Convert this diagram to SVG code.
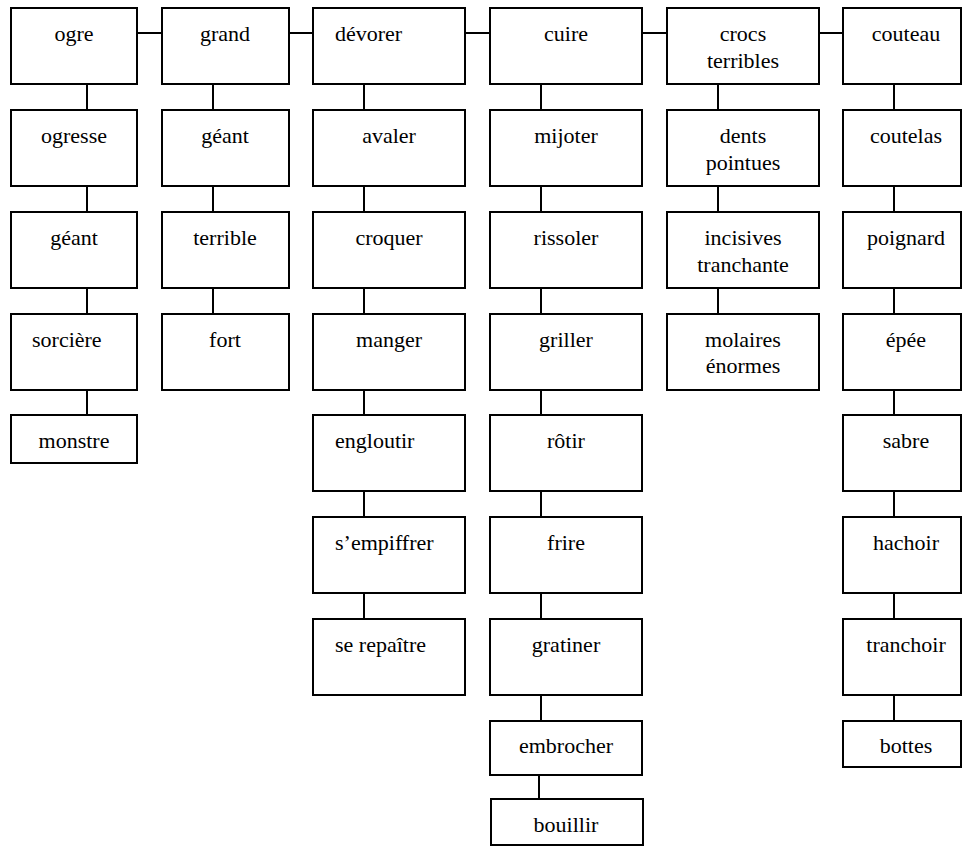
<svg xmlns="http://www.w3.org/2000/svg" width="962" height="846" viewBox="0 0 962 846">
<style>
rect{fill:#fff;stroke:#000;stroke-width:2}
line{stroke:#000;stroke-width:2}
text{fill:#000;text-anchor:middle}
.l{text-anchor:start}
</style>
<rect x="0" y="0" width="962" height="846" style="stroke:none"/>
<g id="connectors">
<line x1="137" y1="33" x2="162" y2="33"/>
<line x1="289" y1="33" x2="313" y2="33"/>
<line x1="465" y1="33" x2="490" y2="33"/>
<line x1="642" y1="33" x2="667" y2="33"/>
<line x1="819" y1="33" x2="843" y2="33"/>
<line x1="87" y1="84" x2="87" y2="110"/>
<line x1="87" y1="186" x2="87" y2="212"/>
<line x1="87" y1="288" x2="87" y2="314"/>
<line x1="87" y1="390" x2="87" y2="415"/>
<line x1="213" y1="84" x2="213" y2="110"/>
<line x1="213" y1="186" x2="213" y2="212"/>
<line x1="213" y1="288" x2="213" y2="314"/>
<line x1="364" y1="84" x2="364" y2="110"/>
<line x1="364" y1="186" x2="364" y2="212"/>
<line x1="364" y1="288" x2="364" y2="314"/>
<line x1="364" y1="390" x2="364" y2="415"/>
<line x1="364" y1="491" x2="364" y2="517"/>
<line x1="364" y1="593" x2="364" y2="619"/>
<line x1="541" y1="84" x2="541" y2="110"/>
<line x1="541" y1="186" x2="541" y2="212"/>
<line x1="541" y1="288" x2="541" y2="314"/>
<line x1="541" y1="390" x2="541" y2="415"/>
<line x1="541" y1="491" x2="541" y2="517"/>
<line x1="541" y1="593" x2="541" y2="619"/>
<line x1="541" y1="695" x2="541" y2="721"/>
<line x1="539" y1="775" x2="539" y2="799"/>
<line x1="718" y1="84" x2="718" y2="110"/>
<line x1="718" y1="186" x2="718" y2="212"/>
<line x1="718" y1="288" x2="718" y2="314"/>
<line x1="894" y1="84" x2="894" y2="110"/>
<line x1="894" y1="186" x2="894" y2="212"/>
<line x1="894" y1="288" x2="894" y2="314"/>
<line x1="894" y1="390" x2="894" y2="415"/>
<line x1="894" y1="491" x2="894" y2="517"/>
<line x1="894" y1="593" x2="894" y2="619"/>
<line x1="894" y1="695" x2="894" y2="721"/>
</g>
<g id="nodes" font-family="Liberation Serif, Times New Roman, serif" font-size="22">
<g id="ogre"><rect x="11" y="8" width="126" height="76"/><text x="74" y="41">ogre</text></g>
<g id="ogresse"><rect x="11" y="110" width="126" height="76"/><text x="74" y="143">ogresse</text></g>
<g id="geant1"><rect x="11" y="212" width="126" height="76"/><text x="74" y="245">géant</text></g>
<g id="sorciere"><rect x="11" y="314" width="126" height="76"/><text class="l" x="32" y="347">sorcière</text></g>
<g id="monstre"><rect x="11" y="415" width="126" height="48"/><text x="74" y="448">monstre</text></g>
<g id="grand"><rect x="162" y="8" width="127" height="76"/><text x="225" y="41">grand</text></g>
<g id="geant2"><rect x="162" y="110" width="127" height="76"/><text x="225" y="143">géant</text></g>
<g id="terrible"><rect x="162" y="212" width="127" height="76"/><text x="225" y="245">terrible</text></g>
<g id="fort"><rect x="162" y="314" width="127" height="76"/><text x="225" y="347">fort</text></g>
<g id="devorer"><rect x="313" y="8" width="152" height="76"/><text class="l" x="335" y="41">dévorer</text></g>
<g id="avaler"><rect x="313" y="110" width="152" height="76"/><text x="389" y="143">avaler</text></g>
<g id="croquer"><rect x="313" y="212" width="152" height="76"/><text x="389" y="245">croquer</text></g>
<g id="manger"><rect x="313" y="314" width="152" height="76"/><text x="389" y="347">manger</text></g>
<g id="engloutir"><rect x="313" y="415" width="152" height="76"/><text class="l" x="335" y="448">engloutir</text></g>
<g id="sempiffrer"><rect x="313" y="517" width="152" height="76"/><text class="l" x="335" y="550">s’empiffrer</text></g>
<g id="serepaitre"><rect x="313" y="619" width="152" height="76"/><text class="l" x="335" y="652">se repaître</text></g>
<g id="cuire"><rect x="490" y="8" width="152" height="76"/><text x="566" y="41">cuire</text></g>
<g id="mijoter"><rect x="490" y="110" width="152" height="76"/><text x="566" y="143">mijoter</text></g>
<g id="rissoler"><rect x="490" y="212" width="152" height="76"/><text x="566" y="245">rissoler</text></g>
<g id="griller"><rect x="490" y="314" width="152" height="76"/><text x="566" y="347">griller</text></g>
<g id="rotir"><rect x="490" y="415" width="152" height="76"/><text x="566" y="448">rôtir</text></g>
<g id="frire"><rect x="490" y="517" width="152" height="76"/><text x="566" y="550">frire</text></g>
<g id="gratiner"><rect x="490" y="619" width="152" height="76"/><text x="566" y="652">gratiner</text></g>
<g id="embrocher"><rect x="490" y="721" width="152" height="54"/><text x="566" y="753">embrocher</text></g>
<g id="bouillir"><rect x="491" y="799" width="152" height="46"/><text x="566" y="832">bouillir</text></g>
<g id="crocs"><rect x="667" y="8" width="152" height="76"/><text x="743" y="41">crocs</text><text x="743" y="68">terribles</text></g>
<g id="dents"><rect x="667" y="110" width="152" height="76"/><text x="743" y="143">dents</text><text x="743" y="170">pointues</text></g>
<g id="incisives"><rect x="667" y="212" width="152" height="76"/><text x="743" y="245">incisives</text><text x="743" y="272">tranchante</text></g>
<g id="molaires"><rect x="667" y="314" width="152" height="76"/><text x="743" y="347">molaires</text><text x="743" y="373">énormes</text></g>
<g id="couteau"><rect x="843" y="8" width="118" height="76"/><text x="906" y="41">couteau</text></g>
<g id="coutelas"><rect x="843" y="110" width="118" height="76"/><text x="906" y="143">coutelas</text></g>
<g id="poignard"><rect x="843" y="212" width="118" height="76"/><text x="906" y="245">poignard</text></g>
<g id="epee"><rect x="843" y="314" width="118" height="76"/><text x="906" y="347">épée</text></g>
<g id="sabre"><rect x="843" y="415" width="118" height="76"/><text x="906" y="448">sabre</text></g>
<g id="hachoir"><rect x="843" y="517" width="118" height="76"/><text x="906" y="550">hachoir</text></g>
<g id="tranchoir"><rect x="843" y="619" width="118" height="76"/><text x="906" y="652">tranchoir</text></g>
<g id="bottes"><rect x="843" y="721" width="118" height="46"/><text x="906" y="753">bottes</text></g>
</g>
</svg>
